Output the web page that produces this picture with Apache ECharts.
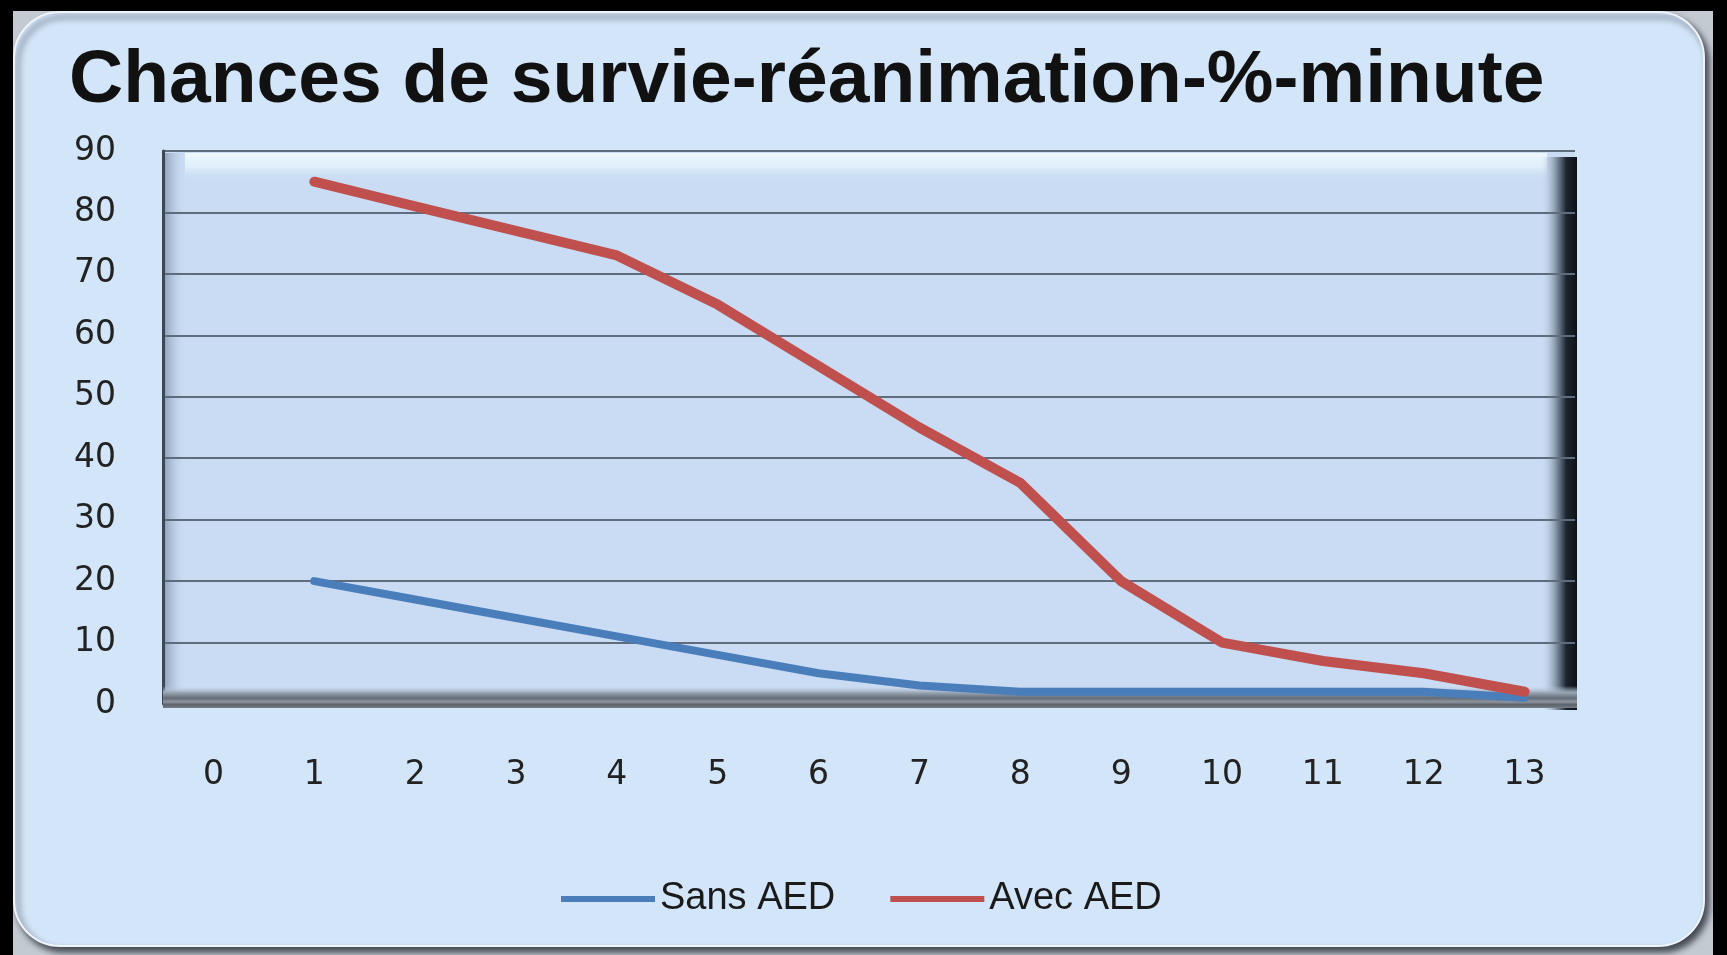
<!DOCTYPE html>
<html>
<head>
<meta charset="utf-8">
<script src="https://cdn.jsdelivr.net/npm/echarts@6/dist/echarts.min.js"></script>
<style>
html,body{margin:0;padding:0;background:#000;}
#c{width:1727px;height:955px;}
</style>
</head>
<body>
<div id="c"></div>
<script>
// ---- data ----
const categories = ['0','1','2','3','4','5','6','7','8','9','10','11','12','13'];
const sansAED = [null, 20, 17, 14, 11, 8, 5, 3, 2, 2, 2, 2, 2, 1];
const avecAED = [null, 85, 81, 77, 73, 65, 55, 45, 36, 20, 10, 7, 5, 2];
const seriesNames = ['Sans AED', 'Avec AED'];
const yMin = 0, yMax = 90, yInterval = 10;
const chartTitle = 'Chances de survie-réanimation-%-minute';

// ---- layout ----
const W = 1727, H = 955;
const G = { left: 163, right: 152, top: 151, bottom: 251 };
const gx0 = G.left, gx1 = W - G.right, gy0 = G.top, gy1 = H - G.bottom;

const chart = echarts.init(document.getElementById('c'), null, { renderer: 'canvas' });

const lin = (x, y, x2, y2, stops) => new echarts.graphic.LinearGradient(x, y, x2, y2, stops);

const graphics = [
  { type: 'rect', z: -20, shape: { x: 13, y: 11, width: 1700, height: H - 11 }, style: { fill: '#c4cad2' } },
  { type: 'rect', z: -19, shape: { x: 14, y: 12, width: 1690, height: 934, r: 46 },
    style: { fill: '#d3e5f9', stroke: '#eef4fa', lineWidth: 2, shadowColor: 'rgba(20,25,35,0.75)', shadowBlur: 6, shadowOffsetX: 4, shadowOffsetY: 5 } },
  { type: 'rect', z: -10, shape: { x: gx0, y: gy0, width: gx1 - gx0, height: gy1 - gy0 }, style: { fill: '#cadcf3' } },
  { type: 'rect', z: -9, shape: { x: gx0 + 22, y: gy0 + 2, width: gx1 - gx0 - 50, height: 28 },
    style: { fill: lin(0, 0, 0, 1, [{ offset: 0, color: 'rgba(240,250,253,0.95)' }, { offset: 0.5, color: 'rgba(232,246,252,0.7)' }, { offset: 1, color: 'rgba(202,220,243,0)' }]) } },
  { type: 'rect', z: -9, shape: { x: gx0 + 1, y: gy0 + 2, width: 22, height: gy1 - gy0 },
    style: { fill: lin(0, 0, 1, 0, [{ offset: 0, color: 'rgba(120,138,160,0.75)' }, { offset: 1, color: 'rgba(202,220,243,0)' }]) } },
  { type: 'rect', z: -8, shape: { x: gx1 - 34, y: gy0 + 6, width: 36, height: gy1 - gy0 },
    style: { fill: lin(0, 0, 1, 0, [{ offset: 0, color: 'rgba(202,220,243,0)' }, { offset: 0.45, color: 'rgba(110,125,145,0.9)' }, { offset: 0.7, color: '#1c2530' }, { offset: 1, color: '#0c1118' }]) } },
  { type: 'rect', z: 1, shape: { x: gx0, y: gy1 - 18, width: gx1 - gx0 + 2, height: 22 },
    style: { fill: lin(0, 0, 0, 1, [{ offset: 0, color: 'rgba(200,214,232,0)' }, { offset: 0.3, color: '#9aa6b5' }, { offset: 0.55, color: '#646c77' }, { offset: 0.72, color: '#8e959e' }, { offset: 0.85, color: '#5b626b' }, { offset: 1, color: '#777e88' }]) } }
];

const option = {
  animation: false,
  backgroundColor: 'transparent',
  title: {
    text: chartTitle,
    left: 64, top: 39,
    textStyle: { fontFamily: 'Liberation Sans', fontWeight: 'bold', fontSize: 75, lineHeight: 75, color: '#111111' }
  },
  legend: {
    data: seriesNames,
    left: 556, top: 874,
    icon: 'rect', itemWidth: 94, itemHeight: 6, itemGap: 55,
    textStyle: { fontFamily: 'Liberation Sans', fontSize: 38, lineHeight: 40, color: '#1a1a1a' }
  },
  grid: { left: G.left, right: G.right, top: G.top, bottom: G.bottom, containLabel: false },
  xAxis: {
    type: 'category',
    data: categories,
    boundaryGap: true,
    axisLine: { show: false },
    axisTick: { show: false },
    axisLabel: { margin: 55, fontFamily: 'DejaVu Sans', fontSize: 33, color: '#222222' }
  },
  yAxis: {
    type: 'value',
    min: yMin, max: yMax, interval: yInterval,
    axisLine: { show: true, lineStyle: { color: '#3a4756', width: 3 } },
    axisTick: { show: false },
    axisLabel: { margin: 47, fontFamily: 'DejaVu Sans', fontSize: 33, color: '#222222' },
    splitLine: { show: true, lineStyle: { color: '#5e6c7d', width: 2 } }
  },
  graphic: graphics,
  series: [
    {
      name: seriesNames[0], type: 'line', data: sansAED, z: 3,
      symbol: 'none', color: '#4a7ebb',
      lineStyle: { width: 8, color: '#4a7ebb', cap: 'round', join: 'round' }
    },
    {
      name: seriesNames[1], type: 'line', data: avecAED, z: 4,
      symbol: 'none', color: '#c0504d',
      lineStyle: { width: 10, color: '#c0504d', cap: 'round', join: 'round' }
    }
  ]
};

chart.setOption(option);
</script>
</body>
</html>
